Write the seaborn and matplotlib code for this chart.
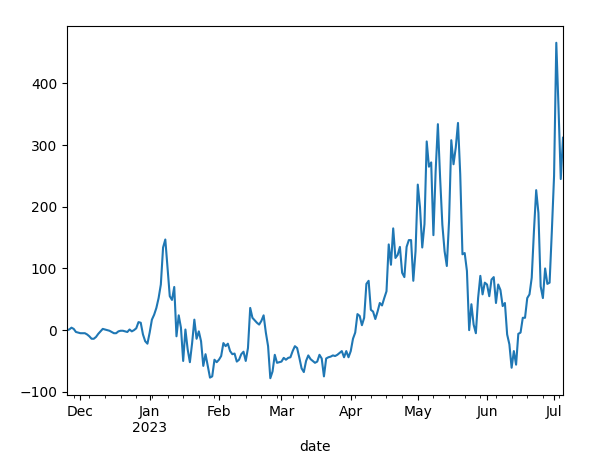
import numpy as np
import pandas as pd
import matplotlib
matplotlib.use("Agg")
import matplotlib.pyplot as plt
import matplotlib.ticker as mticker
import matplotlib.dates as mdates
import seaborn as sns

start_date = "2022-11-25"
nov = [0, 1, 4, 2, -3, -4]
dec = [-5, -5, -5, -7, -10, -14, -14, -11, -6, -2, 2, 1, 0, -1, -3, -5, -5, -2, -1, -1,
       -2, -3, 1, -2, 0, 3, 13, 12, -7, -18, -22]
jan = [-4, 17, 25, 36, 52, 74, 134, 147, 100, 55, 49, 70, -10, 24, 4, -50, 1, -31, -52, -21,
       17, -14, -2, -18, -58, -39, -58, -77, -75, -48, -52]
feb = [-48, -42, -21, -26, -22, -34, -39, -38, -51, -48, -39, -35, -50, -29, 36, 20, 16, 12, 9, 15,
       24, -4, -26, -78, -67, -40, -53, -52]
mar = [-51, -45, -48, -45, -44, -34, -26, -29, -45, -62, -68, -50, -41, -47, -50, -53, -51, -40, -46, -75,
       -46, -44, -43, -41, -42, -40, -37, -34, -44, -34, -44]
apr = [-34, -14, -4, 26, 23, 8, 20, 75, 80, 33, 30, 18, 30, 44, 40, 52, 63, 139, 106, 165,
       117, 122, 135, 93, 86, 135, 146, 146, 80, 128]
may = [236, 199, 134, 172, 306, 265, 272, 154, 258, 334, 247, 171, 128, 104, 177, 308, 269, 296, 336, 253,
       123, 125, 96, 0, 42, 9, -5, 52, 88, 58, 77]
jun = [74, 55, 82, 86, 44, 74, 65, 39, 44, -7, -23, -61, -34, -56, -6, -4, 20, 20, 52, 58,
       85, 161, 227, 190, 71, 52, 100, 75, 77, 160]
jul = [250, 466, 360, 245, 312]

tick_dates = ["2022-12-01", "2023-01-01", "2023-02-01", "2023-03-01",
              "2023-04-01", "2023-05-01", "2023-06-01", "2023-07-01"]
tick_labels = ["Dec", "Jan\n2023", "Feb", "Mar", "Apr", "May", "Jun", "Jul"]

values = nov + dec + jan + feb + mar + apr + may + jun + jul
dates = pd.date_range(start_date, periods=len(values), freq="D")
df = pd.DataFrame({"date": dates, "value": values})

fig = plt.figure(figsize=(6.1, 4.61), dpi=100)
ax = fig.add_axes([67 / 610, (461 - 395) / 461, 496 / 610, 369 / 461])
sns.lineplot(data=df, x="date", y="value", ax=ax, color="#1f77b4", linewidth=1.5)
ax.set_xlim(dates[0], dates[-1])

tick_pos = [mdates.date2num(pd.Timestamp(t)) for t in tick_dates]
ax.xaxis.set_major_locator(mticker.FixedLocator(tick_pos))
ax.xaxis.set_major_formatter(mticker.FixedFormatter(tick_labels))
ax.xaxis.set_minor_locator(mdates.WeekdayLocator(byweekday=mdates.MO))
ax.xaxis.set_minor_formatter(mticker.NullFormatter())
ax.set_xlabel("date")
ax.set_ylabel("")

fig.savefig("out.png", dpi=100)
